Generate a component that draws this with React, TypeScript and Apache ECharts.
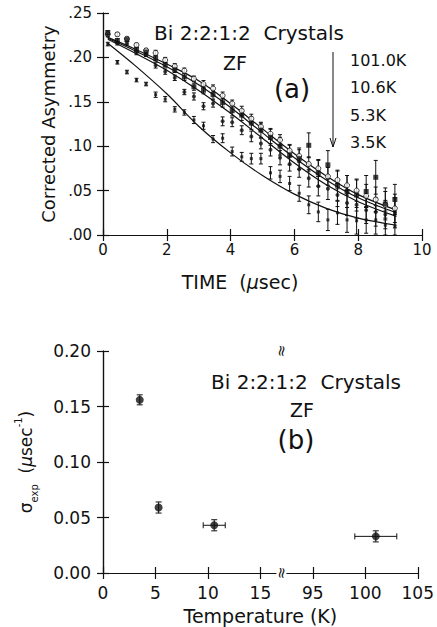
import React, { useEffect, useRef } from "react";
import * as echarts from "echarts";

const FONT = "DejaVu Sans";
const INK = "#111";

// ---------- panel (a): corrected asymmetry vs time ----------
const TIME_US = [0.15, 0.45, 0.75, 1.05, 1.35, 1.65, 1.95, 2.25, 2.55, 2.85, 3.15, 3.45, 3.75, 4.05, 4.35, 4.65, 4.95, 5.25, 5.55, 5.85, 6.15, 6.45, 6.75, 7.05, 7.35, 7.65, 7.95, 8.25, 8.55, 8.85, 9.15];
const ASYM_101_0K = [0.226, 0.226, 0.221, 0.214, 0.208, 0.205, 0.197, 0.19, 0.185, 0.176, 0.17, 0.165, 0.157, 0.148, 0.14, 0.131, 0.122, 0.114, 0.107, 0.095, 0.089, 0.08, 0.075, 0.066, 0.062, 0.056, 0.05, 0.044, 0.04, 0.034, 0.03];
const ASYM_10_6K = [0.228, 0.219, 0.22, 0.209, 0.206, 0.199, 0.192, 0.186, 0.178, 0.167, 0.163, 0.158, 0.149, 0.14, 0.135, 0.126, 0.118, 0.11, 0.1, 0.09, 0.086, 0.101, 0.07, 0.079, 0.056, 0.049, 0.045, 0.049, 0.065, 0.035, 0.04];
const ASYM_5_3K = [0.225, 0.216, 0.216, 0.205, 0.203, 0.191, 0.184, 0.177, 0.161, 0.156, 0.145, 0.148, 0.128, 0.127, 0.118, 0.111, 0.103, 0.096, 0.087, 0.08, 0.074, 0.064, 0.055, 0.052, 0.045, 0.036, 0.034, 0.028, 0.026, 0.023, 0.025];
const ASYM_3_5K = [0.215, 0.1945, 0.1835, 0.1745, 0.17, 0.158, 0.153, 0.1415, 0.138, 0.1295, 0.123, 0.108, 0.109, 0.094, 0.088, 0.086, 0.086, 0.07, 0.066, 0.058, 0.047, 0.034, 0.026, 0.017, 0.025, 0.017, 0.016, 0.017, 0.017, 0.011, 0.01];
const ERR_101_0K = [0.002, 0.002, 0.002, 0.002, 0.002, 0.003, 0.003, 0.003, 0.003, 0.003, 0.004, 0.004, 0.004, 0.004, 0.005, 0.005, 0.005, 0.006, 0.006, 0.007, 0.007, 0.008, 0.009, 0.01, 0.01, 0.011, 0.012, 0.013, 0.014, 0.015, 0.016];
const ERR_10_6K = [0.002, 0.002, 0.002, 0.002, 0.003, 0.003, 0.003, 0.003, 0.004, 0.004, 0.004, 0.005, 0.005, 0.006, 0.006, 0.007, 0.008, 0.009, 0.01, 0.011, 0.012, 0.014, 0.015, 0.016, 0.017, 0.018, 0.018, 0.018, 0.019, 0.018, 0.017];
const ERR_5_3K = [0.002, 0.002, 0.002, 0.002, 0.002, 0.003, 0.003, 0.003, 0.003, 0.004, 0.004, 0.004, 0.005, 0.005, 0.005, 0.006, 0.006, 0.007, 0.008, 0.008, 0.009, 0.01, 0.011, 0.012, 0.013, 0.014, 0.015, 0.015, 0.016, 0.016, 0.017];
const ERR_3_5K = [0.002, 0.002, 0.002, 0.002, 0.002, 0.003, 0.003, 0.003, 0.003, 0.004, 0.004, 0.004, 0.005, 0.005, 0.005, 0.006, 0.006, 0.007, 0.007, 0.008, 0.009, 0.01, 0.011, 0.012, 0.013, 0.014, 0.015, 0.015, 0.016, 0.016, 0.017];

const FIT_TIME_US = [0.15, 1, 2, 3, 4, 5, 6, 7, 8, 9.2];
const FIT_101_0K = [0.2225, 0.2095, 0.1925, 0.1737, 0.148, 0.1195, 0.0915, 0.0665, 0.0455, 0.028];
const FIT_10_6K = [0.2215, 0.2075, 0.1895, 0.1692, 0.1435, 0.115, 0.087, 0.062, 0.042, 0.025];
const FIT_5_3K = [0.2205, 0.205, 0.1855, 0.1628, 0.137, 0.109, 0.081, 0.0565, 0.0375, 0.021];
const FIT_3_5K = [0.216, 0.191, 0.159, 0.1225, 0.0925, 0.067, 0.046, 0.03, 0.019, 0.011];

const ASYM_TICKS = [".00", ".05", ".10", ".15", ".20", ".25"];
const LEGEND_LABELS = ["101.0K", "10.6K", "5.3K", "3.5K"];

// ---------- panel (b): sigma_exp vs temperature ----------
const TEMP_K = [3.5, 5.3, 10.6, 101.0];
const TEMP_ERR_K = [0, 0, 1.05, 2.0];
const SIGMA_EXP = [0.156, 0.059, 0.043, 0.033];
const SIGMA_ERR = [0.0045, 0.005, 0.005, 0.005];
const TEMP_TICKS = ["0", "5", "10", "15", "95", "100", "105"];
const TEMP_BREAK = 17; // axis units, between 15 and 95

// broken axis: 95..105 K drawn right after 15 K
const toAxis = (t: number) => (t > 50 ? t - 75 : t);

const zip = (xs: number[], ys: number[]) => xs.map((x, i) => [x, ys[i]]);

function vErrSeries(xAxisIndex: number, yAxisIndex: number, xs: number[], ys: number[], es: number[], yMax: number, cap: number) {
  return {
    type: "custom",
    xAxisIndex,
    yAxisIndex,
    silent: true,
    z: 2,
    data: xs.map((x, i) => [x, Math.max(0, ys[i] - es[i]), Math.min(yMax, ys[i] + es[i])]),
    renderItem: (_p: any, api: any) => {
      const a = api.coord([api.value(0), api.value(1)]);
      const b = api.coord([api.value(0), api.value(2)]);
      const st = { stroke: INK, lineWidth: 1 };
      return {
        type: "group",
        children: [
          { type: "line", shape: { x1: a[0], y1: a[1], x2: b[0], y2: b[1] }, style: st },
          { type: "line", shape: { x1: a[0] - cap, y1: a[1], x2: a[0] + cap, y2: a[1] }, style: st },
          { type: "line", shape: { x1: b[0] - cap, y1: b[1], x2: b[0] + cap, y2: b[1] }, style: st },
        ],
      };
    },
  };
}

function hErrSeries(xAxisIndex: number, yAxisIndex: number, xs: number[], xe: number[], ys: number[], cap: number) {
  const rows: number[][] = [];
  xs.forEach((x, i) => {
    if (xe[i] > 0) rows.push([toAxis(x - xe[i]), toAxis(x + xe[i]), ys[i]]);
  });
  return {
    type: "custom",
    xAxisIndex,
    yAxisIndex,
    silent: true,
    z: 2,
    data: rows,
    renderItem: (_p: any, api: any) => {
      const a = api.coord([api.value(0), api.value(2)]);
      const b = api.coord([api.value(1), api.value(2)]);
      const st = { stroke: INK, lineWidth: 1 };
      return {
        type: "group",
        children: [
          { type: "line", shape: { x1: a[0], y1: a[1], x2: b[0], y2: b[1] }, style: st },
          { type: "line", shape: { x1: a[0], y1: a[1] - cap, x2: a[0], y2: a[1] + cap }, style: st },
          { type: "line", shape: { x1: b[0], y1: b[1] - cap, x2: b[0], y2: b[1] + cap }, style: st },
        ],
      };
    },
  };
}

function fitSeries(ys: number[]) {
  return {
    type: "line",
    xAxisIndex: 0,
    yAxisIndex: 0,
    data: zip(FIT_TIME_US, ys),
    smooth: 0.35,
    symbol: "none",
    silent: true,
    z: 3,
    lineStyle: { color: INK, width: 1.2 },
  };
}

function pointSeries(ys: number[], symbol: string, size: number, hollow: boolean) {
  return {
    type: "scatter",
    xAxisIndex: 0,
    yAxisIndex: 0,
    data: zip(TIME_US, ys),
    symbol,
    symbolSize: size,
    silent: true,
    z: 4,
    itemStyle: hollow
      ? { color: "#fff", borderColor: INK, borderWidth: 1 }
      : { color: INK },
  };
}

const axisLineStyle = { color: INK, width: 1.2 };
const tickStyle = { show: true, inside: true, length: 6, lineStyle: { color: INK, width: 1.2 } };

function frameAxis(gridIndex: number, position: string, min: number, max: number, interval: number) {
  return {
    type: "value",
    gridIndex,
    position,
    min,
    max,
    interval,
    axisLine: { show: true, lineStyle: axisLineStyle },
    axisTick: tickStyle,
    axisLabel: { show: false },
    splitLine: { show: false },
  };
}

export default function App() {
  const ref = useRef<HTMLDivElement>(null);

  useEffect(() => {
    if (!ref.current) return;
    const chart = echarts.init(ref.current, undefined, { renderer: "svg" });

    const option: any = {
      animation: false,
      backgroundColor: "#fff",
      textStyle: { fontFamily: FONT, color: INK },
      grid: [
        { left: 103, top: 13, width: 319, height: 222 },
        { left: 103, top: 351, width: 319, height: 222 },
      ],
      xAxis: [
        {
          type: "value",
          gridIndex: 0,
          position: "bottom",
          min: 0,
          max: 10,
          interval: 2,
          axisLine: { show: true, lineStyle: axisLineStyle },
          axisTick: tickStyle,
          axisLabel: { margin: 7, fontSize: 15, color: INK, fontFamily: FONT },
          splitLine: { show: false },
        },
        frameAxis(0, "top", 0, 10, 2),
        {
          type: "value",
          gridIndex: 1,
          position: "bottom",
          min: 0,
          max: 30,
          interval: 5,
          axisLine: { show: true, lineStyle: axisLineStyle },
          axisTick: tickStyle,
          axisLabel: {
            margin: 11,
            fontSize: 17,
            color: INK,
            fontFamily: FONT,
            formatter: (v: number) => TEMP_TICKS[Math.round(v / 5)],
          },
          splitLine: { show: false },
          name: "Temperature (K)",
          nameLocation: "middle",
          nameGap: 33,
          nameTextStyle: { fontSize: 19, color: INK, fontFamily: FONT },
        },
        frameAxis(1, "top", 0, 30, 5),
      ],
      yAxis: [
        {
          type: "value",
          gridIndex: 0,
          position: "left",
          min: 0,
          max: 0.25,
          interval: 0.05,
          axisLine: { show: true, lineStyle: axisLineStyle },
          axisTick: tickStyle,
          axisLabel: {
            margin: 11,
            fontSize: 15,
            color: INK,
            fontFamily: FONT,
            formatter: (v: number) => ASYM_TICKS[Math.round(v / 0.05)],
          },
          splitLine: { show: false },
          name: "Corrected Asymmetry",
          nameLocation: "middle",
          nameGap: 46,
          nameTextStyle: { fontSize: 18, color: INK, fontFamily: FONT },
        },
        frameAxis(0, "right", 0, 0.25, 0.05),
        {
          type: "value",
          gridIndex: 1,
          position: "left",
          min: 0,
          max: 0.2,
          interval: 0.05,
          axisLine: { show: true, lineStyle: axisLineStyle },
          axisTick: tickStyle,
          axisLabel: {
            margin: 12,
            fontSize: 17,
            color: INK,
            fontFamily: FONT,
            formatter: (v: number) => v.toFixed(2),
          },
          splitLine: { show: false },
          name: "{s|σ}{sub|exp}{s|  (}{mu|µ}{s|sec}{sup|-1}{s|)}",
          nameLocation: "middle",
          nameGap: 64,
          nameTextStyle: {
            fontSize: 17,
            color: INK,
            fontFamily: FONT,
            rich: {
              s: { fontSize: 17, lineHeight: 26, fontFamily: FONT, color: INK },
              mu: { fontSize: 17, lineHeight: 26, fontFamily: FONT, fontStyle: "italic", color: INK },
              sub: { fontSize: 10, lineHeight: 12, fontFamily: FONT, verticalAlign: "bottom", color: INK },
              sup: { fontSize: 10, lineHeight: 12, fontFamily: FONT, verticalAlign: "top", color: INK },
            },
          },
        },
        frameAxis(1, "right", 0, 0.2, 0.05),
      ],
      series: [
        fitSeries(FIT_101_0K),
        fitSeries(FIT_10_6K),
        fitSeries(FIT_5_3K),
        fitSeries(FIT_3_5K),
        vErrSeries(0, 0, TIME_US, ASYM_101_0K, ERR_101_0K, 0.25, 2),
        vErrSeries(0, 0, TIME_US, ASYM_10_6K, ERR_10_6K, 0.25, 2),
        vErrSeries(0, 0, TIME_US, ASYM_5_3K, ERR_5_3K, 0.25, 2),
        vErrSeries(0, 0, TIME_US, ASYM_3_5K, ERR_3_5K, 0.25, 2),
        pointSeries(ASYM_101_0K, "circle", 5, true),
        pointSeries(ASYM_10_6K, "rect", 5, false),
        pointSeries(ASYM_5_3K, "circle", 4, false),
        pointSeries(ASYM_3_5K, "rect", 3, false),
        // panel (b)
        vErrSeries(2, 2, TEMP_K.map(toAxis), SIGMA_EXP, SIGMA_ERR, 0.2, 3),
        hErrSeries(2, 2, TEMP_K, TEMP_ERR_K, SIGMA_EXP, 3),
        {
          type: "scatter",
          xAxisIndex: 2,
          yAxisIndex: 2,
          data: TEMP_K.map((t, i) => [toAxis(t), SIGMA_EXP[i]]),
          symbol: "circle",
          symbolSize: 8,
          silent: true,
          z: 4,
          itemStyle: { color: INK },
        },
        {
          type: "custom",
          xAxisIndex: 2,
          yAxisIndex: 2,
          silent: true,
          z: 20,
          clip: false,
          data: [
            [TEMP_BREAK, 0],
            [TEMP_BREAK, 0.2],
          ],
          renderItem: (_p: any, api: any) => {
            const c = api.coord([api.value(0), api.value(1)]);
            return {
              type: "group",
              children: [
                { type: "rect", shape: { x: c[0] - 5, y: c[1] - 2, width: 10, height: 4 }, style: { fill: "#fff" } },
                {
                  type: "text",
                  x: c[0],
                  y: c[1],
                  rotation: 1.45,
                  style: {
                    text: "≈",
                    font: `15px "${FONT}"`,
                    fill: INK,
                    align: "center",
                    verticalAlign: "middle",
                    textAlign: "center",
                    textVerticalAlign: "middle",
                  },
                },
              ],
            };
          },
        },
      ],
      graphic: [
        ...[
          { x: 249, y: 33, text: "Bi 2:2:1:2  Crystals", size: 20 },
          { x: 235, y: 63, text: "ZF", size: 19 },
          { x: 292, y: 89, text: "(a)", size: 26 },
          { x: 306, y: 382, text: "Bi 2:2:1:2  Crystals", size: 20 },
          { x: 302, y: 410, text: "ZF", size: 19 },
          { x: 296, y: 440, text: "(b)", size: 26 },
        ].map((t) => ({
          type: "text",
          x: t.x,
          y: t.y,
          z: 30,
          style: {
            text: t.text,
            font: `${t.size}px "${FONT}"`,
            fill: INK,
            align: "center",
            verticalAlign: "middle",
            textAlign: "center",
            textVerticalAlign: "middle",
          },
        })),
        ...LEGEND_LABELS.map((label, i) => ({
          type: "text",
          x: 350,
          y: [60, 87, 115, 142][i],
          z: 30,
          style: {
            text: label,
            font: `16px "${FONT}"`,
            fill: INK,
            align: "left",
            verticalAlign: "middle",
            textAlign: "left",
            textVerticalAlign: "middle",
          },
        })),
        {
          type: "line",
          z: 30,
          shape: { x1: 333, y1: 52, x2: 333, y2: 147 },
          style: { stroke: INK, lineWidth: 1 },
        },
        {
          type: "polyline",
          z: 30,
          shape: { points: [[330, 138], [333, 147], [336, 138]] },
          style: { stroke: INK, fill: "none", lineWidth: 1 },
        },
        {
          type: "text",
          x: 240,
          y: 282,
          z: 30,
          style: {
            text: "TIME  ({m|µ}sec)",
            font: `19px "${FONT}"`,
            fill: INK,
            align: "center",
            verticalAlign: "middle",
            textAlign: "center",
            textVerticalAlign: "middle",
            rich: { m: { fontStyle: "italic", fontSize: 19, fontFamily: FONT, fill: INK } },
          },
        },
      ],
    };

    chart.setOption(option);
    return () => chart.dispose();
  }, []);

  return (
    <div
      ref={ref}
      style={{ position: "fixed", left: 0, top: 0, width: 437, height: 627, background: "#fff" }}
    />
  );
}
